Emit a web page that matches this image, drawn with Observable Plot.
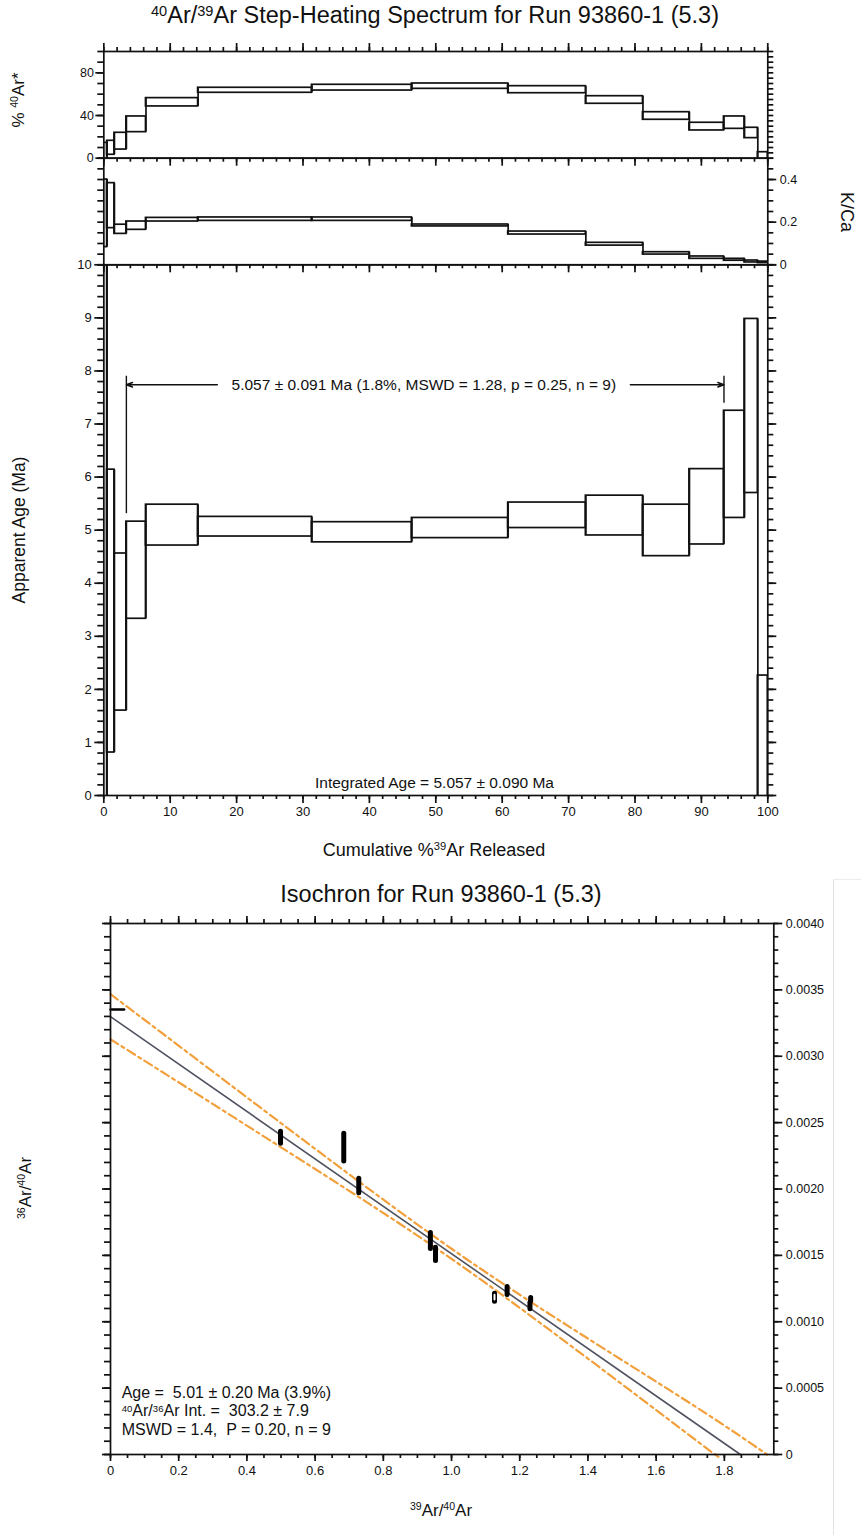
<!DOCTYPE html>
<html><head><meta charset="utf-8">
<script src="https://cdn.jsdelivr.net/npm/d3@7"></script>
<script src="https://cdn.jsdelivr.net/npm/@observablehq/plot@0.6"></script>
<style>
body{margin:0;background:#fff;}
#page{position:relative;width:861px;height:1535px;overflow:hidden;font-family:"Liberation Sans",Arial,Helvetica,sans-serif;color:#111;background:#fff;}
#page svg{position:absolute;left:0;top:0;background:transparent;}
.t{position:absolute;white-space:nowrap;line-height:1;}
.t sup{font-size:62%;vertical-align:0.5em;line-height:0;}
.stats{position:absolute;white-space:nowrap;font-size:16px;}
.stats div{height:18.4px;line-height:18.4px;}
.stats sup{font-size:60%;vertical-align:0.4em;line-height:0;}
</style></head><body><div id="page"></div>
<script>
// ---------- Step-heating spectrum data (cumulative % 39Ar released) ----------
const stepStart = [0, 0.5, 1.6, 3.4, 6.35, 14.2, 31.35, 46.4, 60.9, 72.6, 81.2, 88.2, 93.4, 96.5, 98.5];
const stepEnd   = [0.5, 1.6, 3.4, 6.35, 14.2, 31.35, 46.4, 60.9, 72.6, 81.2, 88.2, 93.4, 96.5, 98.5, 100];
const ar40Lo = [-2, 3.2, 8.1, 24.4, 48.5, 61.3, 63.4, 65.0, 60.9, 51.0, 36.0, 26.0, 27.5, 18.8, -1];
const ar40Hi = [14.4, 16.3, 23.8, 39.1, 56.3, 66.0, 68.8, 70.0, 67.5, 58.1, 43.1, 33.2, 39.1, 28.5, 5.6];
const kcaLo = [0.083, 0.172, 0.145, 0.164, 0.203, 0.206, 0.206, 0.180, 0.142, 0.090, 0.048, 0.028, 0.019, 0.011, 0.008];
const kcaHi = [0.400, 0.383, 0.188, 0.203, 0.220, 0.222, 0.222, 0.189, 0.156, 0.103, 0.059, 0.039, 0.028, 0.020, 0.015];
const ageLo = [-5, 0.81, 1.60, 3.33, 4.71, 4.88, 4.77, 4.85, 5.04, 4.90, 4.51, 4.73, 5.23, 5.70, -3];
const ageHi = [15, 6.14, 4.56, 5.16, 5.48, 5.25, 5.15, 5.23, 5.52, 5.65, 5.48, 6.15, 7.25, 8.98, 2.26];

// plateau annotation (data units)
const plateauFrom = 3.4, plateauTo = 93.4, plateauArrowAge = 7.74;
const plateauBarTop = 7.9, plateauLeftBarBottom = 5.31, plateauRightBarBottom = 7.39;
const plateauTextGap = [17.1, 79.3];
const plateauText = "5.057 \u00b1 0.091 Ma (1.8%, MSWD = 1.28, p = 0.25, n = 9)";
const integratedText = "Integrated Age = 5.057 \u00b1 0.090 Ma";

// tick labels
const specXTicks = [0, 10, 20, 30, 40, 50, 60, 70, 80, 90, 100];
const ar40Ticks = [0, 40, 80];
const kcaTicks = [0, 0.2, 0.4];
const ageTicks = [0, 1, 2, 3, 4, 5, 6, 7, 8, 9, 10];

// ---------- Isochron data ----------
const isoX  = [0.02, 0.4985, 0.684, 0.728, 0.938, 0.953, 1.126, 1.163, 1.230, 1.232];
const isoY  = [0.003352, 0.00239, 0.002315, 0.002026, 0.001612, 0.001512, 0.001185, 0.001235, 0.001122, 0.00117];
const isoSx = [0.02, 0, 0, 0, 0, 0, 0, 0, 0, 0];
const isoSy = [0, 0.000045, 0.000105, 0.000055, 0.00006, 0.00005, 0.00003, 0.00003, 0.000025, 0.000012];
const isoOpen = [false, false, false, false, false, false, true, false, false, false];
const isoInterceptY = 0.003298, isoInterceptX = 1.847;
const envX     = [0, 0.25, 0.5, 0.75, 1.0, 1.25, 1.5, 1.75];
const envUpper = [0.003468, 0.002982, 0.002496, 0.002015, 0.00155, 0.00112, 0.000711, 0.000303];
const envLower = [0.003128, 0.002722, 0.002314, 0.001903, 0.001474, 0.00101, 0.000529, 0.000043];
const envUpperEndX = 1.925, envLowerEndX = 1.774;
const isoXTicks = [0, 0.2, 0.4, 0.6, 0.8, 1.0, 1.2, 1.4, 1.6, 1.8];
const isoYTicks = [0, 0.0005, 0.001, 0.0015, 0.002, 0.0025, 0.003, 0.0035, 0.004];
const isoStatsLines = [
  "Age =&nbsp; 5.01 \u00b1 0.20 Ma (3.9%)",
  "<sup>40</sup>Ar/<sup>36</sup>Ar Int. =&nbsp; 303.2 \u00b1 7.9",
  "MSWD = 1.4,&nbsp; P = 0.20, n = 9"
];

// ---------- layout ----------
const W = 861;
const FONT = '"Liberation Sans", Arial, Helvetica, sans-serif';
const INK = "#111";
const SL = 103.3, SR = 767.3;
const MAJ = 8, MIN = 6, TW = 1.7;
const page = document.getElementById("page");
const svgStyle = {position: "absolute", left: "0px", top: "0px", background: "transparent", fontFamily: FONT, fontSize: "13px", color: INK, overflow: "visible"};

const steps = stepStart.map((s, i) => ({
  start: s, end: stepEnd[i],
  ar40Lo: ar40Lo[i], ar40Hi: ar40Hi[i],
  kcaLo: kcaLo[i], kcaHi: kcaHi[i],
  ageLo: ageLo[i], ageHi: ageHi[i]
}));
// boundaries between consecutive steps: the spectrum joins adjacent boxes with a vertical line
const bounds = steps.slice(0, -1).map((s, i) => ({x: s.end, a: s, b: steps[i + 1]}));
const minorX = d3.range(0, 51).map(i => i * 2);

// outward tick marks drawn with tickX / tickY, limited to a short stub by insets
function stubs(side, values, size, fw, fh) {
  const o = {stroke: INK, strokeWidth: TW};
  if (side === "left")   return Plot.tickY(values, {...o, y: d => d, insetLeft: -size, insetRight: fw});
  if (side === "right")  return Plot.tickY(values, {...o, y: d => d, insetLeft: fw, insetRight: -size});
  if (side === "top")    return Plot.tickX(values, {...o, x: d => d, insetTop: -size, insetBottom: fh});
  return Plot.tickX(values, {...o, x: d => d, insetTop: fh, insetBottom: -size});
}

function specPlot(top, bottom, extra, yDomain, marks) {
  const H = bottom + extra;
  const p = Plot.plot({
    width: W, height: H, marginTop: top, marginBottom: H - bottom,
    marginLeft: SL, marginRight: W - SR,
    x: {domain: [0, 100]}, y: {domain: yDomain},
    style: svgStyle,
    marks
  });
  page.appendChild(p);
}
const FW = SR - SL;
const STEP = {fill: "none", stroke: INK, strokeWidth: 1.7, clip: true};
function spectrum(lo, hi) {
  return [
    Plot.rect(steps, {x1: "start", x2: "end", y1: lo, y2: hi, ...STEP}),
    Plot.ruleX(bounds, {x: "x", y1: d => Math.min(d.a[lo], d.b[lo]), y2: d => Math.max(d.a[hi], d.b[hi]),
      stroke: INK, strokeWidth: 1.7, clip: true})
  ];
}

// Panel A: % 40Ar*
{
  const fh = 157.7 - 51;
  specPlot(51, 157.7, 12, [0, 100], [
    ...spectrum("ar40Lo", "ar40Hi"),
    Plot.frame({stroke: INK, strokeWidth: 1.7}),
    stubs("top", specXTicks, MAJ, FW, fh), stubs("top", minorX, MIN - 2, FW, fh),
    stubs("bottom", specXTicks, MAJ, FW, fh), stubs("bottom", minorX, MIN - 2, FW, fh),
    Plot.axisY({anchor: "left", ticks: ar40Ticks, tickSize: MAJ, tickPadding: 2, fontSize: 12.5, label: null, strokeWidth: TW}),
    Plot.axisX({anchor: "bottom", ticks: [], label: null}),
    stubs("left", d3.range(0, 11).map(i => i * 10), MIN, FW, fh),
    stubs("right", d3.range(0, 21).map(i => i * 5), MIN, FW, fh)
  ]);
}

// Panel B: K/Ca
{
  const fh = 264.3 - 157.7;
  const kMinor = d3.range(0, 11).map(i => i * 0.05);
  specPlot(157.7, 264.3, 12, [0, 0.5], [
    ...spectrum("kcaLo", "kcaHi"),
    Plot.frame({stroke: INK, strokeWidth: 1.7}),
    stubs("bottom", specXTicks, MAJ, FW, fh), stubs("bottom", minorX, MIN - 2, FW, fh),
    Plot.axisY({anchor: "right", ticks: kcaTicks, tickSize: MAJ, tickPadding: 4, fontSize: 12.5, label: null, strokeWidth: TW,
      tickFormat: d => d === 0 ? "0" : d.toFixed(1)}),
    Plot.axisX({anchor: "bottom", ticks: [], label: null}),
    stubs("right", kMinor, MIN, FW, fh),
    stubs("left", kMinor, MIN, FW, fh)
  ]);
}

// Panel C: apparent age
{
  const fh = 795 - 264.3;
  const aMinor = d3.range(0, 51).map(i => i * 0.2);
  specPlot(264.3, 795, 75, [0, 10], [
    ...spectrum("ageLo", "ageHi"),
    Plot.frame({stroke: INK, strokeWidth: 1.7}),
    Plot.ruleX([{x: plateauFrom, y1: plateauLeftBarBottom, y2: plateauBarTop}, {x: plateauTo, y1: plateauRightBarBottom, y2: plateauBarTop}],
      {x: "x", y1: "y1", y2: "y2", stroke: INK, strokeWidth: 1.4}),
    Plot.arrow([{x1: plateauTextGap[0], x2: plateauFrom}, {x1: plateauTextGap[1], x2: plateauTo}],
      {x1: "x1", x2: "x2", y1: () => plateauArrowAge, y2: () => plateauArrowAge, stroke: INK, strokeWidth: 1.4, headLength: 7, headAngle: 40}),
    Plot.text([plateauText], {x: () => (plateauTextGap[0] + plateauTextGap[1]) / 2, y: () => plateauArrowAge, text: d => d, fontSize: 15.5, fill: INK}),
    Plot.text([integratedText], {x: () => 49.8, y: () => 0.23, text: d => d, fontSize: 15.5, fill: INK}),
    Plot.axisX({anchor: "bottom", ticks: specXTicks, tickSize: MAJ, tickPadding: 3, fontSize: 13, label: null, strokeWidth: TW}),
    stubs("bottom", minorX, MIN - 2, FW, fh),
    Plot.axisY({anchor: "left", ticks: ageTicks, tickSize: MAJ + 1, tickPadding: 3, fontSize: 13, label: null, strokeWidth: TW}),
    stubs("left", aMinor, MIN, FW, fh),
    stubs("right", ageTicks, MAJ + 1, FW, fh),
    stubs("right", aMinor, MIN, FW, fh)
  ]);
}

// ---------- Isochron ----------
const isoPts = isoX.map((x, i) => ({x, y: isoY[i], sx: isoSx[i], sy: isoSy[i], open: isoOpen[i]}));
const upper = envX.map((x, i) => ({x, y: envUpper[i]})).concat([{x: envUpperEndX, y: 0}]);
const lower = envX.map((x, i) => ({x, y: envLower[i]})).concat([{x: envLowerEndX, y: 0}]);
const fitLine = [{x: 0, y: isoInterceptY}, {x: isoInterceptX, y: 0}];
const ORANGE = "#f2a03c";
const IT = 923, IB = 1454, IL = 110, IR = 773.3;
{
  const fw = IR - IL, fh = IB - IT;
  const xMinor = d3.range(0, 39).map(i => i * 0.05);
  const yMinor = d3.range(0, 41).map(i => i * 0.0001);
  page.appendChild(Plot.plot({
    width: W, height: 1535, marginTop: IT, marginBottom: 1535 - IB, marginLeft: IL, marginRight: W - IR,
    x: {domain: [0, 1.945]}, y: {domain: [0, 0.004]},
    style: svgStyle,
    marks: [
      Plot.line(upper, {x: "x", y: "y", stroke: ORANGE, strokeWidth: 2.2, strokeDasharray: "9 4 3 4", curve: "natural"}),
      Plot.line(lower, {x: "x", y: "y", stroke: ORANGE, strokeWidth: 2.2, strokeDasharray: "9 4 3 4", curve: "natural"}),
      Plot.line(fitLine, {x: "x", y: "y", stroke: "#4f5360", strokeWidth: 1.6}),
      Plot.link(isoPts, {x1: d => d.x - d.sx, x2: d => d.x + d.sx, y1: d => d.y - d.sy, y2: d => d.y + d.sy,
        stroke: "#000", strokeWidth: d => d.sx > 0 ? 2.5 : 5, strokeLinecap: "round"}),
      Plot.link(isoPts.filter(d => d.open), {x1: "x", x2: "x", y1: d => d.y - d.sy * 0.6, y2: d => d.y + d.sy * 0.6,
        stroke: "#fff", strokeWidth: 2, strokeLinecap: "round"}),
      Plot.frame({stroke: INK, strokeWidth: 1.7}),
      Plot.axisX({anchor: "bottom", ticks: isoXTicks, tickSize: MAJ - 1, tickPadding: 4, fontSize: 13, label: null,
        tickFormat: d => d === 0 ? "0" : d.toFixed(1), strokeWidth: TW}),
      stubs("bottom", xMinor, MIN - 2, fw, fh),
      stubs("top", isoXTicks, MAJ - 1, fw, fh),
      stubs("top", xMinor, MIN - 2, fw, fh),
      Plot.axisY({anchor: "right", ticks: isoYTicks, tickSize: MAJ, tickPadding: 4, fontSize: 12.5, label: null,
        tickFormat: d => d === 0 ? "0" : d.toFixed(4), strokeWidth: TW}),
      stubs("right", yMinor, MIN - 1, fw, fh),
      stubs("left", isoYTicks, MAJ, fw, fh),
      stubs("left", yMinor, MIN, fw, fh)
    ]
  }));
}

// ---------- HTML titles and axis labels ----------
function label(html, x, y, size, rot) {
  const d = document.createElement("div");
  d.className = "t";
  d.innerHTML = html;
  d.style.left = x + "px";
  d.style.top = y + "px";
  d.style.fontSize = size + "px";
  d.style.transform = `translate(-50%,-50%) rotate(${rot || 0}deg)`;
  page.appendChild(d);
}
label("<sup>40</sup>Ar/<sup>39</sup>Ar Step-Heating Spectrum for Run 93860-1 (5.3)", 435, 16, 23.5);
label("% <sup>40</sup>Ar*", 18, 100, 17, -90);
label("K/Ca", 847, 212, 18, 90);
label("Apparent Age (Ma)", 20, 530, 17.5, -90);
label("Cumulative %<sup>39</sup>Ar Released", 434, 850, 18);
label("Isochron for Run 93860-1 (5.3)", 441, 895, 23.5);
label("<sup>36</sup>Ar/<sup>40</sup>Ar", 25, 1188, 17, -90);
label("<sup>39</sup>Ar/<sup>40</sup>Ar", 441, 1510, 17);

const stats = document.createElement("div");
stats.className = "stats";
stats.style.left = "121.7px";
stats.style.top = "1384px";
stats.innerHTML = isoStatsLines.map(s => `<div>${s}</div>`).join("");
page.appendChild(stats);

const edge = document.createElement("div");
edge.style.cssText = "position:absolute;left:833px;top:879px;width:40px;height:700px;border-left:1px solid #e2e2e2;border-top:1px solid #ececec;";
page.appendChild(edge);
</script></body></html>
